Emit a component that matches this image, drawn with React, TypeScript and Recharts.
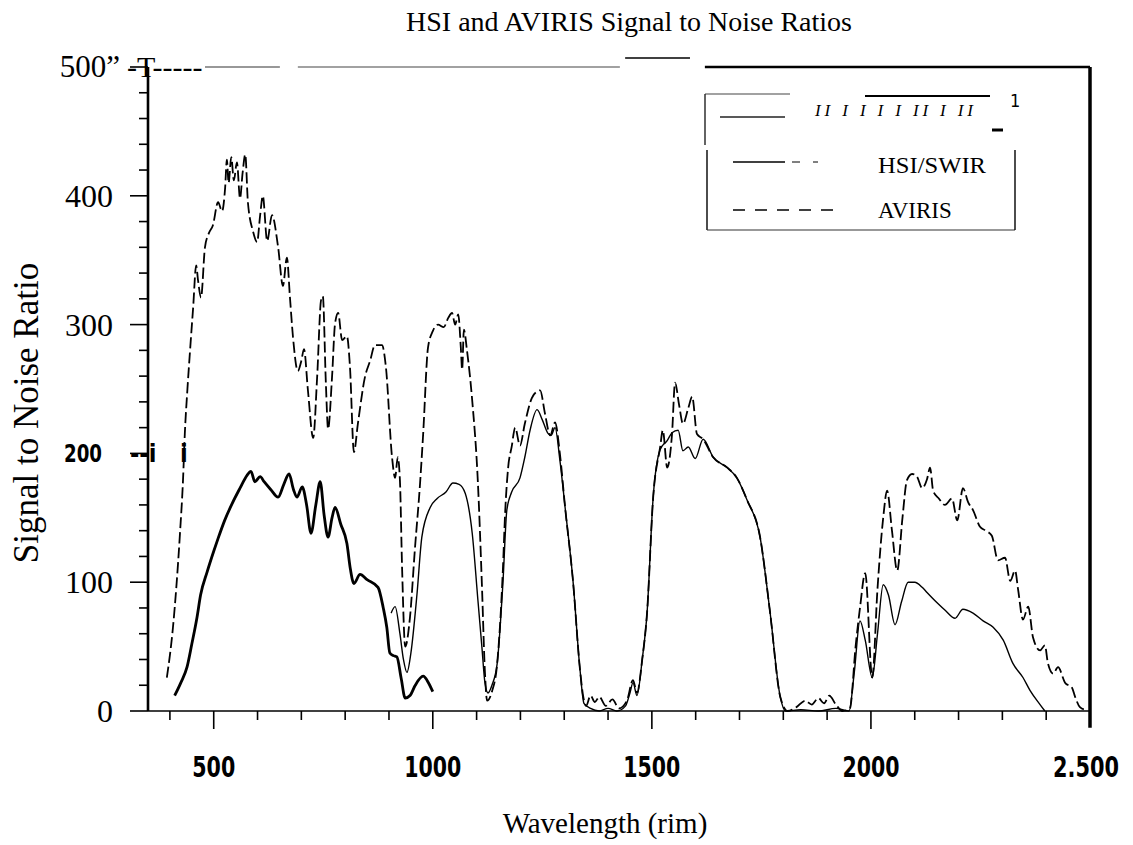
import { LineChart, Line, XAxis, YAxis, Legend, ReferenceLine } from "recharts";

// HSI/VNIR (thick solid)
const vnirWavelength = [411, 425, 439, 450, 462, 470, 485, 500, 510, 525, 542, 560, 576, 585, 594, 606, 615, 630, 647, 660, 672, 682, 690, 702, 712, 722, 733, 743, 752, 761, 770, 777, 790, 804, 812, 820, 834, 850, 875, 887, 895, 902, 910, 918, 928, 937, 948, 960, 978, 990, 1000];
const vnirSnr = [12, 22, 34, 52, 73, 90, 108, 124, 134, 148, 161, 173, 183, 186, 178, 182, 178, 172, 166, 176, 184, 172, 166, 174, 160, 138, 160, 178, 152, 135, 150, 158, 145, 130, 110, 99, 106, 102, 96, 80, 65, 45, 43, 42, 25, 10, 12, 20, 27, 22, 15];

// HSI/SWIR (thin solid)
const swirWavelength = [905, 914, 925, 933, 941, 950, 964, 975, 994, 1010, 1030, 1046, 1060, 1074, 1090, 1103, 1112, 1119, 1126, 1135, 1147, 1160, 1169, 1180, 1199, 1210, 1222, 1238, 1250, 1262, 1270, 1279, 1290, 1302, 1320, 1336, 1345, 1360, 1380, 1400, 1420, 1440, 1450, 1457, 1466, 1478, 1489, 1503, 1519, 1535, 1546, 1560, 1571, 1583, 1599, 1617, 1640, 1672, 1694, 1717, 1747, 1770, 1793, 1805, 1840, 1880, 1920, 1950, 1962, 1975, 1987, 2003, 2015, 2028, 2040, 2055, 2070, 2085, 2100, 2117, 2128, 2151, 2170, 2192, 2210, 2233, 2256, 2279, 2302, 2324, 2347, 2363, 2386, 2397];
const swirSnr = [76, 81, 60, 40, 30, 45, 91, 135, 158, 165, 170, 177, 176, 169, 138, 86, 50, 22, 14, 20, 37, 99, 156, 170, 181, 197, 218, 234, 226, 216, 214, 220, 195, 158, 101, 32, 6, 2, 0, 2, 0, 4, 14, 22, 12, 40, 76, 166, 203, 210, 216, 218, 202, 205, 196, 211, 197, 189, 181, 164, 135, 76, 11, 0, 1, 0, 2, 0, 30, 70, 55, 26, 60, 98, 90, 67, 85, 100, 100, 96, 92, 84, 78, 72, 79, 76, 70, 65, 55, 37, 26, 16, 5, 0];

// AVIRIS (dashed)
const avirisWavelength = [393, 407, 423, 430, 434, 440, 446, 453, 460, 464, 471, 480, 489, 498, 510, 519, 526, 530, 534, 540, 546, 553, 560, 566, 572, 578, 590, 599, 606, 612, 622, 633, 647, 658, 667, 674, 681, 692, 700, 706, 715, 727, 736, 745, 749, 756, 761, 770, 777, 784, 793, 804, 811, 820, 829, 845, 857, 868, 884, 893, 907, 914, 920, 925, 930, 937, 948, 959, 971, 978, 989, 1000, 1012, 1025, 1035, 1044, 1051, 1058, 1064, 1067, 1071, 1078, 1090, 1103, 1112, 1119, 1124, 1135, 1147, 1160, 1165, 1172, 1180, 1188, 1199, 1210, 1226, 1238, 1245, 1256, 1268, 1279, 1290, 1302, 1320, 1336, 1343, 1350, 1360, 1370, 1380, 1395, 1410, 1425, 1443, 1457, 1466, 1478, 1489, 1503, 1519, 1525, 1535, 1546, 1553, 1562, 1571, 1583, 1592, 1603, 1617, 1640, 1672, 1694, 1717, 1747, 1770, 1793, 1810, 1830, 1850, 1865, 1880, 1893, 1905, 1920, 1935, 1952, 1965, 1975, 1987, 2003, 2015, 2028, 2037, 2048, 2060, 2072, 2082, 2094, 2105, 2117, 2128, 2135, 2142, 2155, 2169, 2185, 2197, 2210, 2222, 2233, 2249, 2262, 2276, 2290, 2306, 2318, 2329, 2336, 2347, 2359, 2370, 2386, 2397, 2404, 2416, 2427, 2443, 2459, 2466, 2477, 2490];
const avirisSnr = [26, 65, 138, 180, 215, 250, 280, 313, 346, 335, 321, 360, 371, 377, 395, 388, 406, 428, 410, 430, 412, 426, 398, 418, 432, 395, 372, 364, 385, 400, 365, 385, 360, 330, 352, 321, 290, 264, 272, 281, 249, 212, 259, 319, 322, 254, 219, 259, 301, 309, 288, 291, 267, 201, 223, 259, 272, 284, 284, 267, 197, 181, 197, 179, 110, 50, 73, 125, 177, 215, 282, 295, 300, 298, 305, 309, 300, 308, 282, 265, 296, 280, 241, 177, 99, 30, 8, 15, 37, 110, 153, 189, 205, 220, 206, 223, 243, 248, 249, 231, 214, 224, 200, 158, 101, 32, 12, 4, 12, 7, 11, 4, 9, 2, 8, 24, 14, 40, 76, 166, 205, 218, 189, 215, 255, 238, 223, 235, 244, 215, 211, 197, 189, 181, 164, 135, 76, 11, 0, 3, 8, 5, 10, 6, 12, 5, 0, 2, 50, 80, 107, 26, 95, 150, 171, 140, 109, 150, 179, 184, 182, 173, 180, 189, 171, 165, 160, 165, 148, 173, 162, 156, 143, 140, 136, 117, 119, 101, 109, 94, 71, 81, 57, 47, 51, 37, 29, 34, 22, 18, 11, 3, 1];

const xTicks = [400, 500, 600, 700, 800, 900, 1000, 1100, 1200, 1300, 1400, 1500, 1600, 1700, 1800, 1900, 2000, 2100, 2200, 2300, 2400, 2500];
const xLabelValues = [500, 1000, 1500, 2000, 2500];
const xLabelTexts = ["500", "1000", "1500", "2000", "2.500"];
const yTicks = [0, 20, 40, 60, 80, 100, 120, 140, 160, 180, 200, 220, 240, 260, 280, 300, 320, 340, 360, 380, 400, 420, 440, 460, 480, 500];
const yLabelValues = [0, 100, 200, 300, 400, 500];
const yLabelTexts = ["0", "100", "200", "300", "400", "500\u201d"];
const legendLabels = ["II I I I I II I II", "HSI/SWIR", "AVIRIS"];

const SERIF = "'Liberation Serif', 'Times New Roman', serif";
const NARROW = "'Liberation Sans Narrow', 'DejaVu Sans Condensed', 'Liberation Sans', sans-serif";

const toPoints = (xs: number[], ys: number[]) => xs.map((nm, i) => ({ nm, snr: ys[i] }));
const vnirData = toPoints(vnirWavelength, vnirSnr);
const swirData = toPoints(swirWavelength, swirSnr);
const avirisData = toPoints(avirisWavelength, avirisSnr);

const xLabelWidth: Record<string, number> = { "500": 43, "1000": 57, "1500": 57, "2000": 57, "2.500": 66 };

function XTick({ x, y, payload }: any) {
  const v = payload.value;
  const idx = xLabelValues.indexOf(v);
  const major = idx >= 0;
  const label = major ? xLabelTexts[idx] : null;
  return (
    <g>
      {v < 2500 && (
        <line x1={x} x2={x} y1={y} y2={y + (major ? 18 : 9)} stroke="#000" strokeWidth={1.6} />
      )}
      {label && (
        <text
          x={v === 2500 ? x - 4 : x}
          y={y + 66}
          textAnchor="middle"
          fontFamily={NARROW}
          fontWeight={700}
          fontSize={28}
          textLength={xLabelWidth[label]}
          lengthAdjust="spacingAndGlyphs"
          fill="#000"
        >
          {label}
        </text>
      )}
    </g>
  );
}

function YTick({ x, y, payload }: any) {
  const v = payload.value;
  const idx = yLabelValues.indexOf(v);
  const major = idx >= 0;
  const label = major ? yLabelTexts[idx] : null;
  return (
    <g>
      <line x1={x - (major ? 18 : 9)} x2={x} y1={y} y2={y} stroke="#000" strokeWidth={1.6} />
      {label && v === 200 && (
        <>
          <text x={102} y={y + 9} textAnchor="end" fontFamily={NARROW} fontWeight={700} fontSize={25} textLength={38} lengthAdjust="spacingAndGlyphs">
            {label}
          </text>
          <text x={130} y={y + 9} fontFamily={NARROW} fontWeight={700} fontSize={25}>--i</text>
          <text x={180} y={y + 9} fontFamily={NARROW} fontWeight={700} fontSize={25}>i</text>
        </>
      )}
      {label && v === 500 && (
        <>
          <text x={120} y={y + 10} textAnchor="end" fontFamily={SERIF} fontSize={31}>{label}</text>
          <text x={127} y={y + 10} fontFamily={SERIF} fontSize={30}>-T-----</text>
        </>
      )}
      {label && v !== 200 && v !== 500 && (
        <text x={113} y={y + 11} textAnchor="end" fontFamily={SERIF} fontSize={32}>
          {label}
        </text>
      )}
    </g>
  );
}

function LegendBox() {
  return (
    <svg width={330} height={150} style={{ overflow: "visible" }}>
      <line x1={5} y1={6} x2={90} y2={6} stroke="#444" strokeWidth={1.2} />
      <line x1={5} y1={6} x2={5} y2={57} stroke="#222" strokeWidth={1.4} />
      <line x1={165} y1={8} x2={290} y2={8} stroke="#000" strokeWidth={2.2} />
      <line x1={20} y1={29} x2={85} y2={29} stroke="#222" strokeWidth={1.3} />
      <text x={115} y={28} fontFamily={SERIF} fontStyle="italic" fontSize={17} textLength={158} lengthAdjust="spacing">
        {legendLabels[0]}
      </text>
      <line x1={292} y1={42} x2={303} y2={42} stroke="#000" strokeWidth={3} />
      <text x={310} y={19} fontFamily={NARROW} fontSize={18}>1</text>
      <line x1={7} y1={62} x2={7} y2={142} stroke="#000" strokeWidth={1.4} />
      <line x1={7} y1={142} x2={315} y2={142} stroke="#333" strokeWidth={1.2} />
      <line x1={315} y1={62} x2={315} y2={142} stroke="#000" strokeWidth={1.4} />
      <line x1={33} y1={74} x2={85} y2={74} stroke="#000" strokeWidth={1.3} />
      <line x1={92} y1={74} x2={100} y2={74} stroke="#000" strokeWidth={1} />
      <line x1={113} y1={74} x2={118} y2={74} stroke="#000" strokeWidth={1} />
      <text x={178} y={85} fontFamily={SERIF} fontSize={23} textLength={108} lengthAdjust="spacingAndGlyphs">{legendLabels[1]}</text>
      <line x1={33} y1={122} x2={140} y2={122} stroke="#000" strokeWidth={1.3} strokeDasharray="12 10" />
      <text x={178} y={130} fontFamily={SERIF} fontSize={23}>{legendLabels[2]}</text>
    </svg>
  );
}

export default function App() {
  return (
    <div style={{ position: "absolute", left: 0, top: 0, width: 1133, height: 845, background: "#fff" }}>
      <div
        style={{
          position: "absolute",
          left: 0,
          width: 1258,
          top: 6,
          textAlign: "center",
          fontFamily: SERIF,
          fontSize: 28,
          zIndex: 1,
        }}
      >
        HSI and AVIRIS Signal to Noise Ratios
      </div>
      <LineChart width={1133} height={845} margin={{ top: 67, right: 43, left: 0, bottom: 0 }}>
        <XAxis
          dataKey="nm"
          type="number"
          domain={[350, 2500]}
          ticks={xTicks}
          allowDataOverflow
          height={134}
          tick={<XTick />}
          tickLine={false}
          tickSize={0}
          tickMargin={0}
          axisLine={{ stroke: "#000", strokeWidth: 1.5 }}
          interval={0}
          label={{
            content: () => (
              <text x={605} y={833} textAnchor="middle" fontFamily={SERIF} fontSize={29}>
                Wavelength (rim)
              </text>
            ),
          }}
        />
        <YAxis
          type="number"
          domain={[0, 500]}
          ticks={yTicks}
          width={148}
          tick={<YTick />}
          tickLine={false}
          tickSize={0}
          tickMargin={0}
          axisLine={{ stroke: "#000", strokeWidth: 2.6 }}
          interval={0}
          label={{
            content: () => (
              <text transform="translate(38,413) rotate(-90)" textAnchor="middle" fontFamily={SERIF} fontSize={35}>
                Signal to Noise Ratio
              </text>
            ),
          }}
        />
        <ReferenceLine segment={[{ x: 480, y: 500 }, { x: 651, y: 500 }]} stroke="#333" strokeWidth={1.2} ifOverflow="visible" />
        <ReferenceLine segment={[{ x: 692, y: 500 }, { x: 1427, y: 500 }]} stroke="#444" strokeWidth={1.2} ifOverflow="visible" />
        <ReferenceLine segment={[{ x: 1439, y: 507 }, { x: 1587, y: 507 }]} stroke="#000" strokeWidth={1.5} ifOverflow="visible" />
        <ReferenceLine segment={[{ x: 1621, y: 500 }, { x: 2500, y: 500 }]} stroke="#000" strokeWidth={2.5} ifOverflow="visible" />
        <ReferenceLine segment={[{ x: 2500, y: -13 }, { x: 2500, y: 500 }]} stroke="#000" strokeWidth={3.5} ifOverflow="visible" />
        <Legend
          layout="horizontal"
          verticalAlign="middle"
          align="center"
          content={<LegendBox />}
          wrapperStyle={{ position: "absolute", left: 700, top: 88, width: 330, height: 150 }}
        />
        <Line
          data={avirisData}
          dataKey="snr"
          name="AVIRIS"
          type="monotone"
          stroke="#000"
          strokeWidth={1.8}
          strokeDasharray="11 4"
          dot={false}
          isAnimationActive={false}
        />
        <Line
          data={swirData}
          dataKey="snr"
          name="HSI/SWIR"
          type="monotone"
          stroke="#000"
          strokeWidth={1.4}
          dot={false}
          isAnimationActive={false}
        />
        <Line
          data={vnirData}
          dataKey="snr"
          name="HSI/VNIR"
          type="monotone"
          stroke="#000"
          strokeWidth={2.8}
          dot={false}
          isAnimationActive={false}
        />
      </LineChart>
    </div>
  );
}
